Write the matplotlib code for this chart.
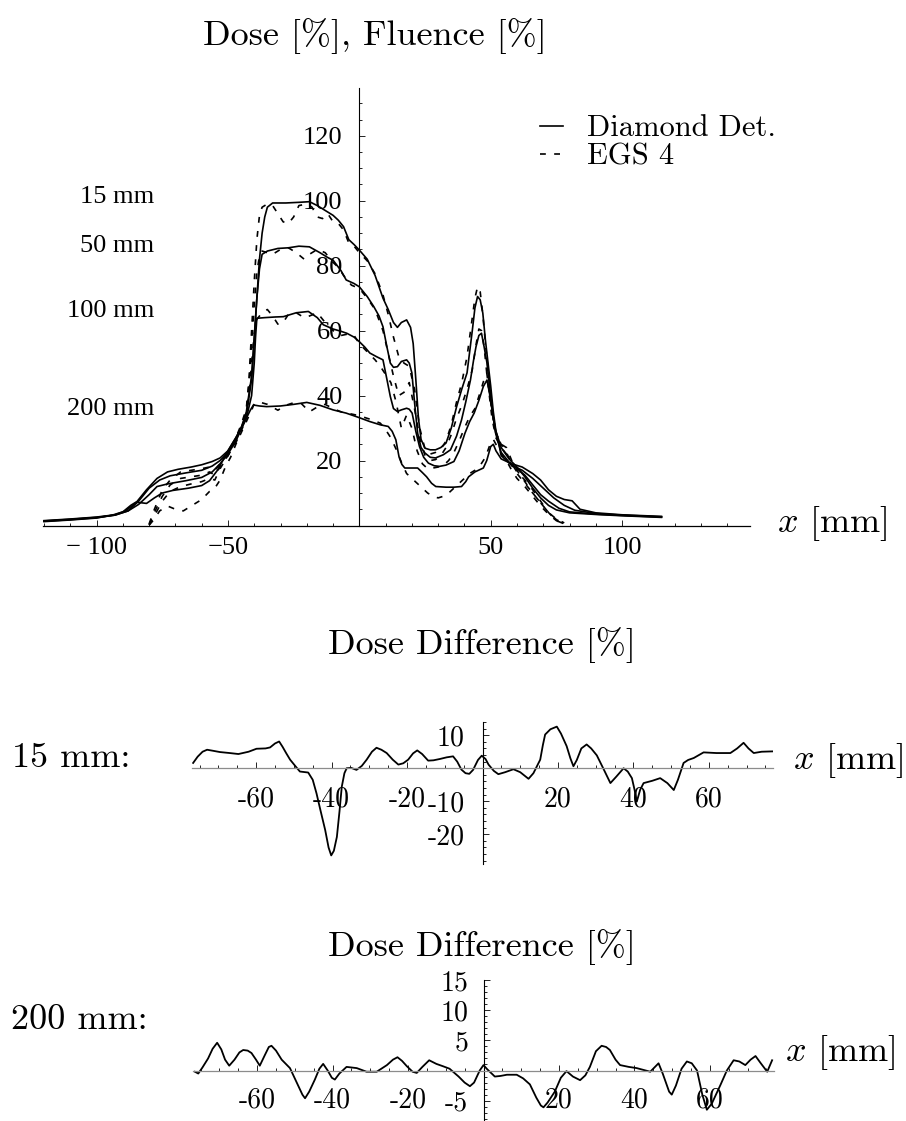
import matplotlib
matplotlib.use("Agg")
import matplotlib.pyplot as plt
from matplotlib.ticker import MultipleLocator

# -------------------------------------------------------------
# DATA
# -------------------------------------------------------------
# measured profiles (Diamond detector), depth 15 / 50 / 100 / 200 mm
diamond_15 = [(-120, 1.5), (-110, 2.0), (-100, 2.6), (-93, 3.3), (-89, 4.5), (-85, 7), (-81, 11),
              (-77, 14.5), (-73, 16.5), (-69, 17.3), (-64, 18), (-60, 18.7), (-56, 19.7), (-53, 20.8),
              (-50, 23), (-47, 27), (-45, 30), (-43, 34), (-41, 45), (-40, 57), (-39, 70), (-38, 82),
              (-37, 90), (-36, 95), (-35, 98), (-33, 99.3), (-28, 99.3), (-23, 99.5), (-19, 99.7),
              (-16, 98.5), (-13, 97), (-10, 95.5), (-8, 94), (-6, 92), (-4, 88), (-2, 86.5), (0, 84.8),
              (3, 82), (6, 77), (9, 70), (11, 66.5), (13, 62.5), (14.5, 61), (16, 62.5), (18, 63.3),
              (19.5, 61), (20.5, 56), (21.5, 45), (22.5, 33), (23.5, 26.5), (25, 23.8), (27, 23.3),
              (29, 23.3), (31, 24), (33, 25.4), (35, 30), (37, 36.5), (39, 42), (41, 47), (43, 60),
              (44, 67), (45, 70.5), (46, 69.5), (47, 65.4), (48, 57), (49, 50), (50, 43), (51, 35),
              (52, 29), (54, 24), (57, 20.5), (60, 18), (63, 15), (66, 11.5), (69, 8.5), (72, 6.2),
              (75, 4.8), (80, 3.9), (90, 3.4), (100, 3.0), (115, 2.5)]
diamond_50 = [(-120, 1.4), (-110, 1.9), (-100, 2.5), (-93, 3.2), (-88, 4.5), (-84, 7.5), (-80, 11.5),
              (-76, 14), (-72, 15.3), (-66, 16.2), (-60, 17), (-56, 18.3), (-53, 20), (-50, 22.5),
              (-47, 26.5), (-45, 30), (-43, 35), (-41, 46), (-40, 58), (-39, 70), (-38, 79), (-37, 83.5),
              (-35, 84.5), (-31, 85.3), (-27, 85.5), (-23, 86), (-19, 85.8), (-15, 84), (-12, 82.5),
              (-10, 81.7), (-7, 78.5), (-5, 75.6), (-2, 74.5), (0, 73.5), (3, 70.5), (5.5, 67.4),
              (7.5, 64.5), (9, 61.2), (10.5, 55), (11.8, 50), (13, 48.7), (14.5, 48.9), (16, 50.5),
              (18, 51), (19, 50), (20, 47), (21, 38), (22.2, 28.4), (23.5, 24), (25, 22.3), (27, 21),
              (29, 20.8), (32, 21.8), (34.7, 23.3), (37, 27.5), (38.9, 32.5), (40.5, 38), (42.3, 44.8),
              (43.5, 51), (44.4, 55), (45.5, 58.5), (46.5, 59.2), (47.5, 55), (48.6, 50), (49.7, 42),
              (50.7, 34.6), (52, 28), (54, 22.5), (57, 19.5), (60, 17.5), (63, 15.5), (66, 12.5),
              (69, 9.5), (72, 7.5), (76, 5.3), (80, 4.2), (90, 3.5), (100, 3.1), (115, 2.6)]
diamond_100 = [(-120, 1.3), (-110, 1.8), (-100, 2.4), (-93, 3.2), (-88, 4.5), (-84, 6.5), (-80, 9.5),
               (-77, 12), (-73, 12.8), (-66, 13.8), (-60, 14.8), (-56, 16.5), (-53, 19), (-50, 22),
               (-47, 26), (-45, 29.5), (-43, 33), (-41, 40), (-40, 50), (-39.5, 58), (-39, 63.8),
               (-36, 64), (-32, 64.2), (-28.9, 64.3), (-24, 65.5), (-19.4, 65.9), (-16, 64),
               (-13.7, 61.8), (-10, 60.5), (-7, 59.8), (-4.8, 59.2), (-2, 58), (0, 56.6), (2, 55),
               (4, 53.1), (6.5, 52), (9, 51), (10.5, 45), (11.8, 39.7), (13, 36), (14.5, 35.1),
               (16, 35.6), (18, 36.1), (19, 35.8), (20.1, 34.6), (21.5, 29), (22.9, 24.3), (24.5, 21),
               (26.3, 19.2), (28.5, 18.4), (30.5, 18.2), (33, 18.6), (36, 19.7), (38, 23), (40.2, 28.4),
               (42, 32), (43.7, 34.6), (45.5, 38.5), (47.2, 42.8), (48.6, 44.8), (49.7, 40), (50.7, 34.6),
               (51.7, 30), (52.8, 26.4), (54, 21.5), (58, 18.5), (62, 17), (66, 14.5), (70, 11.5),
               (74, 8.5), (78, 6.2), (82, 4.7), (90, 3.7), (100, 3.2), (115, 2.7)]
diamond_200 = [(-120, 1.2), (-110, 1.7), (-100, 2.3), (-94, 3.2), (-90, 4.2), (-87, 6.2), (-85, 7.2),
               (-83, 7.0), (-81, 6.8), (-78, 8.5), (-75, 10), (-71, 10.8), (-65, 11.5), (-60, 12.3),
               (-57, 13.8), (-54, 17), (-52, 20), (-50, 23), (-47, 27), (-45, 30), (-43, 33),
               (-41.5, 35.5), (-40.3, 37.1), (-38, 36.8), (-35.3, 36.6), (-30, 36.8), (-25, 37.3),
               (-20, 37.9), (-15, 37), (-10, 35.6), (-5, 34.6), (0, 33.2), (4, 32), (8, 31), (11, 30.5),
               (12.5, 29), (13.9, 26.4), (15.1, 21.2), (16.2, 18.8), (17.3, 17.7), (20, 17.7),
               (22.2, 17.7), (24, 16.3), (25.6, 15), (27.5, 13), (29.1, 12), (33, 11.8), (36, 11.8),
               (38.9, 12), (40.5, 13.5), (41.6, 15), (44, 16.5), (47.2, 17.7), (48.5, 20), (50, 24.3),
               (51, 25), (52, 23), (54, 20.5), (58, 19), (62, 18), (66, 16), (69, 14), (72, 11), (75, 9),
               (78, 8), (81, 7.6), (84, 5), (90, 3.9), (100, 3.3), (115, 2.8)]

# Monte Carlo profiles (EGS 4), same depths
egs_15 = [(-80, 0.5), (-78, 5), (-75, 11), (-72, 14), (-68, 16.5), (-64, 17), (-60, 17.5), (-57, 18),
          (-55, 17), (-53, 19), (-50, 22), (-47, 27), (-45, 31), (-43, 36), (-42, 45), (-41, 60),
          (-40, 75), (-39, 88), (-38, 95.5), (-37, 98), (-35, 99), (-33, 98.5), (-31, 96), (-29, 93.5),
          (-27, 93), (-25, 95), (-23, 98.5), (-20, 99), (-18, 98), (-16, 95), (-14, 94.5), (-12, 96),
          (-10, 93.5), (-8, 93), (-6, 91), (-4, 87), (-2, 86), (0, 84), (3, 81.5), (6, 77.5), (9, 71),
          (11, 65), (13, 58), (15, 52), (17, 50), (19, 49), (21, 42), (23, 30), (25, 23.5), (27, 22),
          (29, 22.5), (31, 23.5), (33, 26), (35, 31), (37, 38), (39, 44), (41, 52), (43, 64), (44, 70),
          (45, 73.5), (46, 72), (47, 65), (48, 56), (49, 48), (50, 40), (51, 33), (52, 28.5), (54, 25),
          (56, 24), (58, 20), (60, 17), (63, 13.5), (66, 10), (69, 7), (72, 4), (75, 2), (78, 0.8)]
egs_50 = [(-80, 0.3), (-78, 4), (-75, 9), (-72, 12.5), (-68, 14.5), (-64, 15), (-60, 15.5), (-57, 16.5),
          (-55, 15.5), (-53, 18), (-50, 21.5), (-47, 26), (-45, 30.5), (-43, 35), (-42, 43), (-41, 55),
          (-40, 68), (-39, 78), (-38, 83), (-37, 84.5), (-35, 84), (-33, 83.5), (-30, 85), (-27, 85.5),
          (-24, 84), (-21, 82), (-19, 83.5), (-16, 85), (-13, 84), (-10, 81), (-8, 79.5), (-6, 77),
          (-3, 74), (0, 73), (3, 70), (6, 66.5), (9, 60), (11, 53), (13, 46), (15, 40), (17, 41),
          (19, 44), (21, 36), (23, 27), (25, 21.5), (27, 20), (29, 20.3), (31, 21.5), (33, 24), (35, 28),
          (37, 33), (39, 37), (41, 42), (43, 48), (44.5, 56), (45.5, 60.5), (46.5, 60), (47.5, 55),
          (48.5, 47), (49.5, 40), (50.5, 33), (52, 27), (54, 24), (56, 22), (58, 18.5), (60, 16),
          (63, 13), (66, 10), (69, 7), (72, 4), (75, 1.8), (78, 0.6)]
egs_100 = [(-80, 0.2), (-78, 3), (-75, 7.5), (-72, 10.5), (-68, 12), (-64, 12.8), (-60, 13.5), (-57, 14.5),
           (-55, 14), (-53, 17.5), (-50, 21.5), (-47, 25.5), (-45, 29), (-43, 33), (-42, 40), (-41, 50),
           (-40, 59), (-39, 63.5), (-37, 65.5), (-35, 66.5), (-33, 64.5), (-31, 62), (-29, 62.5),
           (-27, 65), (-24, 65.5), (-21, 64), (-19, 64.5), (-16, 65.5), (-13, 62.5), (-10, 60),
           (-7, 58.5), (-4, 59), (-2, 58.5), (0, 56), (3, 53.5), (6, 51), (8, 49), (10, 46.5), (12, 44),
           (14, 38), (16, 30), (18, 34), (20, 30), (22, 23), (24, 19), (26, 17.5), (28, 17.7), (30, 18),
           (32, 18.5), (34, 20), (36, 22.5), (38, 26), (40, 30), (42, 33.5), (44, 36), (46, 41),
           (47.5, 45), (48.5, 47), (49.5, 41), (50.5, 35), (52, 28), (54, 25), (56, 22.5), (58, 19),
           (60, 16.5), (63, 14), (66, 11), (69, 7.5), (72, 4), (75, 1.5), (78, 0.5)]
egs_200 = [(-80, 0.1), (-78, 2), (-76, 4.5), (-73, 6), (-70, 5), (-67, 4.5), (-64, 6), (-60, 8),
           (-57, 10.5), (-55, 11.5), (-53, 14), (-51, 18), (-49, 21), (-47, 25), (-45, 28.5), (-43, 32),
           (-41, 35.5), (-40, 37.5), (-38, 38), (-35, 37.3), (-31, 35.5), (-28, 37), (-25, 37.8),
           (-22, 37.5), (-19, 35), (-16, 36.5), (-13, 37.3), (-10, 36), (-7, 35), (-4, 34.5), (0, 33.8),
           (3, 33), (5, 32.5), (8, 31.5), (10, 29.5), (12, 27), (14, 23.5), (16, 19.5), (18, 16),
           (20, 14.5), (22, 13), (24, 11.5), (26, 10), (28, 9), (30, 8.5), (32, 9), (34, 10), (36, 11.5),
           (38, 13), (40, 14.5), (42, 16), (44, 17), (46, 18.5), (48, 21), (50, 25.5), (51, 26.5),
           (52, 25), (54, 22), (56, 20), (58, 17), (60, 14.5), (63, 12), (66, 9), (69, 6), (72, 3.5),
           (75, 1.5), (78, 0.3)]

depth_labels = ["15 mm", "50 mm", "100 mm", "200 mm"]
depth_label_y = [101, 86, 66, 36]          # value level where each label sits

# dose difference (Diamond - EGS 4) at 15 mm and 200 mm depth
diff_15 = [(-76.7, 1.6), (-75.5, 3.5), (-74.2, 5.0), (-73.0, 5.6), (-71.5, 5.3), (-69.6, 4.9),
           (-67, 4.6), (-64.7, 4.3), (-62, 5.0), (-59.9, 5.9), (-57.5, 6.0), (-56.3, 6.3), (-55, 7.5),
           (-53.9, 8.1), (-53, 6.5), (-52, 4.5), (-51, 2.6), (-49.5, 0.5), (-48.4, -1.0), (-46.2, -1.3),
           (-45, -3.5), (-44, -7.6), (-43, -12.5), (-41.7, -18.7), (-40.8, -24), (-40.1, -26.4),
           (-39.4, -25), (-38.6, -20.8), (-37.9, -13), (-37.3, -5.6), (-36.6, -1.5), (-36, 0.0),
           (-34.8, 0.1), (-33.4, -0.5), (-32, 0.7), (-30.7, 2.6), (-29.3, 5.0), (-28.1, 6.2),
           (-26.8, 5.6), (-25.4, 4.6), (-23.8, 2.6), (-22.3, 1.1), (-21, 1.5), (-19.7, 2.6),
           (-18.4, 4.5), (-17.3, 5.4), (-16, 4.3), (-14.4, 2.3), (-13, 2.4), (-11.3, 2.8), (-9.5, 3.3),
           (-7.8, 3.6), (-6.7, 2), (-5.6, -0.4), (-4.5, -1.5), (-3.5, -1.7), (-2.5, -0.5), (-1.2, 2.5),
           (-0.2, 3.8), (0.8, 2.8), (1.6, 1.1), (3, -0.8), (4.2, -1.8), (6, -1.2), (8.2, -0.3),
           (10, -1.2), (12.2, -3.2), (13.5, -1.5), (15.3, 2.6), (16, 7), (16.6, 10.2), (18, 11.8),
           (19.7, 12.6), (20.8, 10.5), (22.3, 6.7), (23.3, 3), (24.1, 0.6), (25, 2.5), (26.2, 6.0),
           (27.6, 7.2), (28.8, 6), (30.3, 3.9), (32.2, -0.5), (33.9, -4.5), (35.5, -2.5), (37.4, 0.0),
           (38.5, -1.0), (39.6, -3.0), (40.3, -6.5), (40.9, -10.1), (41.8, -6.5), (42.7, -4.5),
           (45, -3.8), (47.1, -3.0), (49, -4.5), (50.7, -6.6), (51.8, -3.5), (53.3, 1.6), (54.5, 2.5),
           (56.0, 3.1), (58.6, 4.8), (62, 4.6), (65.7, 4.6), (67.5, 6.0), (69.2, 7.7), (70.5, 6.0),
           (71.9, 4.6), (74, 5.0), (76.8, 5.1)]
diff_200 = [(-76.5, -0.2), (-75.6, -0.5), (-74.5, 0.5), (-73.0, 2.0), (-71.8, 3.6), (-70.6, 4.6),
            (-69.5, 3.5), (-68.5, 1.8), (-67.4, 0.8), (-66, 1.8), (-64.7, 3.0), (-63.7, 3.4),
            (-62.5, 3.3), (-61.5, 2.9), (-60.3, 1.8), (-59.3, 0.8), (-58, 2.5), (-56.9, 3.9),
            (-56.2, 4.1), (-55, 3.3), (-53.5, 1.8), (-51.3, 0.4), (-49.5, -2), (-48, -4.0),
            (-47.3, -4.6), (-46.2, -3.5), (-44.7, -1.5), (-43.5, 0.3), (-42.5, 1.1), (-41.3, 0.0),
            (-40.2, -1.2), (-39.4, -1.5), (-38.2, -0.5), (-36.3, 0.6), (-33.6, 0.4), (-31.0, -0.2),
            (-28.3, -0.2), (-25.6, 0.9), (-24, 1.8), (-22.8, 2.2), (-21.6, 1.6), (-20.3, 0.7),
            (-18.8, -0.2), (-17.7, -0.4), (-16.2, 0.6), (-14.4, 1.7), (-12.5, 1.1), (-10.7, 0.7),
            (-9, 0.3), (-6.6, -1.0), (-5, -2.0), (-3.6, -2.6), (-2.5, -2), (-1, 0), (0.0, 0.9),
            (1, 0.2), (3.0, -1.0), (4.5, -0.9), (6.2, -0.7), (8.8, -0.7), (10.5, -1.3), (12.3, -2.3),
            (14, -4.5), (15.2, -5.8), (15.9, -6.1), (17, -5.3), (18.9, -3.5), (20.5, -1.2), (22.0, -0.1),
            (23.7, -1.0), (25.6, -1.6), (27, -0.8), (28.2, 0.6), (29.8, 3.2), (31.3, 4.1), (32.5, 3.9),
            (33.5, 3.4), (35, 1.8), (36.2, 0.9), (38.5, 0.6), (40.6, 0.4), (44.2, -0.2), (45.3, 0.5),
            (46.4, 1.2), (47.5, -0.5), (49.2, -3.5), (49.9, -4.0), (51, -2.5), (52.5, 0.3), (53.9, 1.5),
            (55.2, 1.2), (56.6, 0.0), (58, -4), (59.2, -6.5), (60.5, -5.5), (62.8, -2.4), (64.5, 0),
            (66.3, 1.7), (67.8, 1.5), (69.4, 0.9), (70.8, 1.8), (72.1, 2.4), (73.5, 1.2), (75.2, -0.2),
            (76.5, 1.7)]

# tick values and labels
top_xticks = [-100, -50, 50, 100]
top_xlabels = ["\u2212 100", "\u221250", "50", "100"]
top_yticks = [20, 40, 60, 80, 100, 120]
diff_xticks = [-60, -40, -20, 20, 40, 60]
diff15_yticks = [-20, -10, 10]
diff200_yticks = [-5, 5, 10, 15]

# -------------------------------------------------------------
# FIGURE
# -------------------------------------------------------------
W, H = 906, 1121
plt.rcParams["font.family"] = "serif"
plt.rcParams["font.serif"] = ["cmr10", "DejaVu Serif"]
plt.rcParams["mathtext.fontset"] = "cm"
plt.rcParams["axes.unicode_minus"] = False
plt.rcParams["axes.formatter.use_mathtext"] = True

fig = plt.figure(figsize=(W / 100, H / 100), dpi=100)
TIMES = "Liberation Serif"
DASH = (0, (3.5, 5))


def px_axes(left, top, right, bottom):
    """axes placed by pixel box of the 906x1121 canvas"""
    return fig.add_axes([left / W, 1 - bottom / H, (right - left) / W, (bottom - top) / H])


def fig_text(px, py, s, **kw):
    fig.text(px / W, 1 - py / H, s, **kw)


def cross_axes(ax, xcolor="black"):
    # Mathematica style axes crossing at the origin
    ax.patch.set_alpha(0)
    for s in ("top", "right"):
        ax.spines[s].set_visible(False)
    ax.spines["left"].set_position(("data", 0))
    ax.spines["bottom"].set_position(("data", 0))
    ax.spines["left"].set_linewidth(0.8)
    ax.spines["bottom"].set_linewidth(0.9)
    ax.spines["bottom"].set_color(xcolor)
    ax.tick_params(which="both", direction="in", width=0.6)
    ax.tick_params(which="major", length=4)
    ax.tick_params(which="minor", length=2)


def xy(points):
    return [p[0] for p in points], [p[1] for p in points]


# --- top panel: dose profiles
ax = px_axes(43, 88, 750, 532)
ax.set_xlim(-120.4, 148.7)
ax.set_ylim(-2, 134.7)
cross_axes(ax)
ax.spines["left"].set_bounds(0, 134.7)

for i, curve in enumerate([diamond_15, diamond_50, diamond_100, diamond_200]):
    ax.plot(*xy(curve), color="black", lw=1.2, label="Diamond Det." if i == 0 else None)
for i, curve in enumerate([egs_15, egs_50, egs_100, egs_200]):
    ax.plot(*xy(curve), color="black", lw=1.2, ls=DASH, label="EGS 4" if i == 0 else None)

ax.set_xticks(top_xticks, top_xlabels, fontfamily=TIMES, fontsize=19)
ax.set_yticks(top_yticks, [str(v) for v in top_yticks], fontfamily=TIMES, fontsize=19)
ax.xaxis.set_minor_locator(MultipleLocator(10))
ax.yaxis.set_minor_locator(MultipleLocator(5))
ax.tick_params(axis="x", pad=8)
ax.tick_params(axis="y", pad=12)

for lab, yv in zip(depth_labels, depth_label_y):
    ax.text(-78, yv, lab, ha="right", va="center", fontfamily=TIMES, fontsize=19)

ax.legend(loc="upper left", bbox_to_anchor=(540 / W, 1 - 115 / H), bbox_transform=fig.transFigure,
          frameon=False, fontsize=22, handlelength=0.75, handletextpad=0.8,
          labelspacing=0.02, borderpad=0, borderaxespad=0)

fig_text(375, 36, "Dose [%], Fluence [%]", fontsize=26, ha="center", va="center")
fig_text(832, 523, r"$x$ [mm]", fontsize=26, ha="center", va="center")

# --- middle panel: dose difference at 15 mm
ax2 = px_axes(192, 722, 773, 864)
ax2.set_xlim(-77, 77)
ax2.set_ylim(-29, 14)
cross_axes(ax2, xcolor="0.55")
ax2.plot(*xy(diff_15), color="black", lw=1.3)
ax2.set_xticks(diff_xticks, [str(v) for v in diff_xticks], fontsize=20)
ax2.set_yticks(diff15_yticks, [str(v) for v in diff15_yticks], fontsize=20)
ax2.xaxis.set_minor_locator(MultipleLocator(5))
ax2.yaxis.set_minor_locator(MultipleLocator(2))
ax2.tick_params(axis="x", pad=13)
ax2.tick_params(axis="y", pad=13)

fig_text(482, 645, "Dose Difference [%]", fontsize=26, ha="center", va="center")
fig_text(71, 758, "15 mm:", fontsize=26, ha="center", va="center")
fig_text(848, 760, r"$x$ [mm]", fontsize=26, ha="center", va="center")

# --- bottom panel: dose difference at 200 mm
ax3 = px_axes(193, 980, 774, 1120)
ax3.set_xlim(-77, 77)
ax3.set_ylim(-8.2, 15)
cross_axes(ax3, xcolor="0.55")
ax3.plot(*xy(diff_200), color="black", lw=1.3)
ax3.set_xticks(diff_xticks, [str(v) for v in diff_xticks], fontsize=20)
ax3.set_yticks(diff200_yticks, [str(v) for v in diff200_yticks], fontsize=20)
ax3.xaxis.set_minor_locator(MultipleLocator(5))
ax3.yaxis.set_minor_locator(MultipleLocator(1))
ax3.tick_params(axis="x", pad=12)
ax3.tick_params(axis="y", pad=11)

fig_text(482, 947, "Dose Difference [%]", fontsize=26, ha="center", va="center")
fig_text(79, 1020, "200 mm:", fontsize=26, ha="center", va="center")
fig_text(840, 1052, r"$x$ [mm]", fontsize=26, ha="center", va="center")

fig.savefig("out.png", dpi=100)
